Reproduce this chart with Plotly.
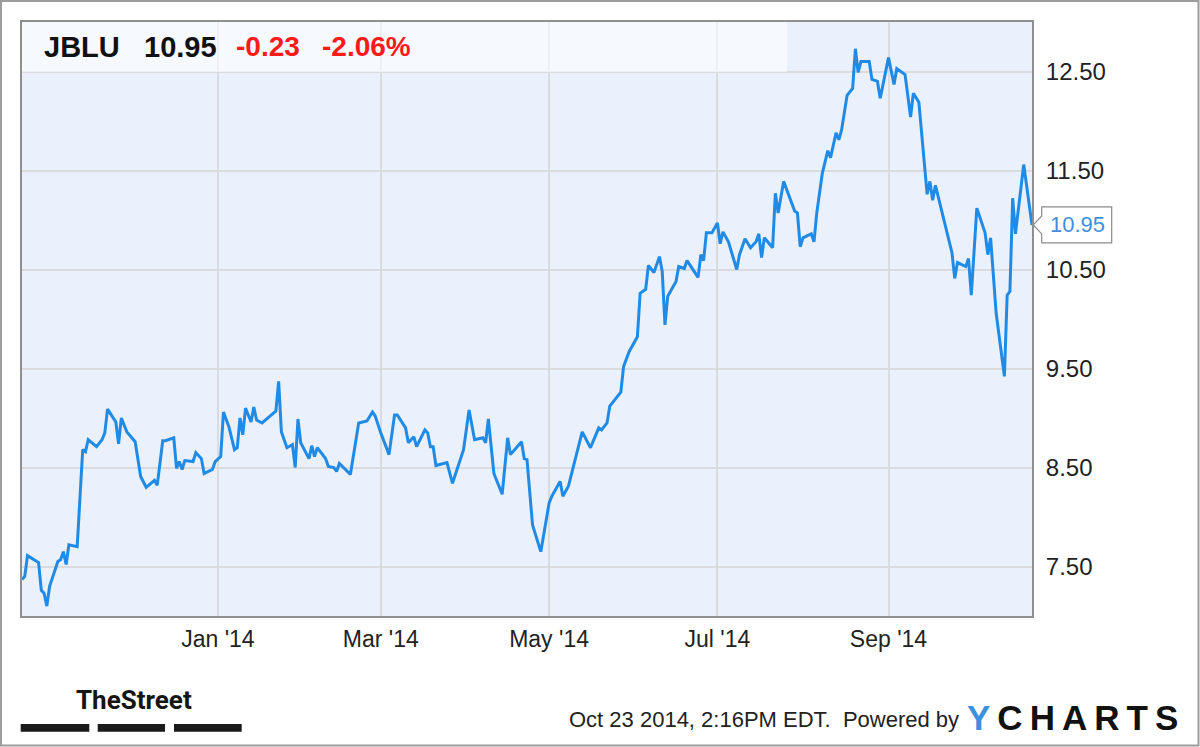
import plotly.graph_objects as go

# ---------------- data ----------------
ticker = "JBLU"
change_abs = -0.23
change_pct = -2.06
timestamp_text = "Oct 23 2014, 2:16PM EDT."

dates = [
    "2013-10-22", "2013-10-23", "2013-10-24", "2013-10-28", "2013-10-29", "2013-10-30", "2013-10-31",
    "2013-11-01", "2013-11-04", "2013-11-05", "2013-11-06", "2013-11-07", "2013-11-08", "2013-11-11",
    "2013-11-13", "2013-11-14", "2013-11-15", "2013-11-18", "2013-11-20", "2013-11-21", "2013-11-22",
    "2013-11-25", "2013-11-26", "2013-11-27", "2013-11-29", "2013-12-02", "2013-12-04", "2013-12-06",
    "2013-12-09", "2013-12-10", "2013-12-12", "2013-12-13", "2013-12-16", "2013-12-17", "2013-12-18",
    "2013-12-19", "2013-12-20", "2013-12-23", "2013-12-24", "2013-12-26", "2013-12-27", "2013-12-30",
    "2013-12-31", "2014-01-02", "2014-01-03", "2014-01-05", "2014-01-07", "2014-01-08", "2014-01-09",
    "2014-01-10", "2014-01-11", "2014-01-12", "2014-01-13", "2014-01-14", "2014-01-15", "2014-01-17",
    "2014-01-22", "2014-01-23", "2014-01-24", "2014-01-26", "2014-01-28", "2014-01-29", "2014-01-30",
    "2014-01-31", "2014-02-03", "2014-02-04", "2014-02-05", "2014-02-06", "2014-02-09", "2014-02-10",
    "2014-02-12", "2014-02-13", "2014-02-14", "2014-02-18", "2014-02-21", "2014-02-24", "2014-02-26",
    "2014-02-27", "2014-03-01", "2014-03-04", "2014-03-06", "2014-03-07", "2014-03-10", "2014-03-11",
    "2014-03-13", "2014-03-14", "2014-03-17", "2014-03-18", "2014-03-19", "2014-03-20", "2014-03-21",
    "2014-03-25", "2014-03-27", "2014-03-31", "2014-04-02", "2014-04-04", "2014-04-07", "2014-04-08",
    "2014-04-09", "2014-04-11", "2014-04-14", "2014-04-16", "2014-04-17", "2014-04-21", "2014-04-22",
    "2014-04-23", "2014-04-25", "2014-04-28", "2014-05-01", "2014-05-02", "2014-05-05", "2014-05-06",
    "2014-05-08", "2014-05-13", "2014-05-16", "2014-05-19", "2014-05-20", "2014-05-22", "2014-05-23",
    "2014-05-27", "2014-05-28", "2014-05-30", "2014-06-02", "2014-06-03", "2014-06-05", "2014-06-06",
    "2014-06-08", "2014-06-10", "2014-06-11", "2014-06-12", "2014-06-13", "2014-06-16", "2014-06-17",
    "2014-06-19", "2014-06-20", "2014-06-24", "2014-06-25", "2014-06-26", "2014-06-27", "2014-06-29",
    "2014-07-01", "2014-07-02", "2014-07-03", "2014-07-05", "2014-07-08", "2014-07-09", "2014-07-11",
    "2014-07-13", "2014-07-15", "2014-07-16", "2014-07-17", "2014-07-18", "2014-07-21", "2014-07-22",
    "2014-07-23", "2014-07-25", "2014-07-29", "2014-07-30", "2014-07-31", "2014-08-01", "2014-08-04",
    "2014-08-05", "2014-08-06", "2014-08-08", "2014-08-10", "2014-08-11", "2014-08-13", "2014-08-14",
    "2014-08-15", "2014-08-17", "2014-08-19", "2014-08-20", "2014-08-21", "2014-08-22", "2014-08-25",
    "2014-08-26", "2014-08-28", "2014-08-29", "2014-09-01", "2014-09-03", "2014-09-04", "2014-09-07",
    "2014-09-09", "2014-09-10", "2014-09-12", "2014-09-15", "2014-09-16", "2014-09-17", "2014-09-18",
    "2014-09-24", "2014-09-25", "2014-09-26", "2014-09-29", "2014-09-30", "2014-10-01", "2014-10-03",
    "2014-10-06", "2014-10-07", "2014-10-08", "2014-10-10", "2014-10-13", "2014-10-14", "2014-10-15",
    "2014-10-16", "2014-10-17", "2014-10-20", "2014-10-23",
]

prices = [
    7.37, 7.40, 7.61, 7.54, 7.26, 7.23, 7.10,
    7.30, 7.55, 7.57, 7.65, 7.52, 7.72, 7.70,
    8.68, 8.66, 8.78, 8.71, 8.78, 8.85, 9.09,
    8.96, 8.74, 9.00, 8.86, 8.76, 8.41, 8.30,
    8.37, 8.32, 8.77, 8.77, 8.80, 8.49, 8.56,
    8.48, 8.57, 8.56, 8.65, 8.59, 8.44, 8.48,
    8.56, 8.61, 9.06, 8.91, 8.68, 8.70, 9.00,
    8.83, 9.10, 9.03, 8.96, 9.11, 8.98, 8.95,
    9.07, 9.37, 8.86, 8.70, 8.73, 8.50, 8.99,
    8.75, 8.59, 8.72, 8.61, 8.70, 8.59, 8.51,
    8.50, 8.46, 8.54, 8.43, 8.95, 8.97, 9.06,
    9.02, 8.85, 8.63, 9.03, 9.03, 8.90, 8.75,
    8.81, 8.71, 8.88, 8.85, 8.71, 8.71, 8.52,
    8.55, 8.34, 8.68, 9.08, 8.78, 8.80, 8.75,
    8.99, 8.44, 8.23, 8.80, 8.63, 8.76, 8.59,
    8.58, 7.92, 7.65, 8.14, 8.21, 8.36, 8.21,
    8.31, 8.86, 8.70, 8.90, 8.88, 8.95, 9.12,
    9.26, 9.52, 9.67, 9.82, 10.26, 10.30, 10.54,
    10.47, 10.63, 10.48, 9.94, 10.23, 10.38, 10.53,
    10.51, 10.59, 10.42, 10.65, 10.59, 10.87, 10.87,
    10.97, 10.76, 10.88, 10.78, 10.50, 10.65, 10.81,
    10.72, 10.78, 10.86, 10.62, 10.82, 10.72, 11.27,
    11.07, 11.39, 11.09, 11.07, 10.73, 10.82, 10.86,
    10.78, 11.07, 11.47, 11.70, 11.63, 11.88, 11.81,
    11.91, 12.26, 12.33, 12.73, 12.49, 12.60, 12.60,
    12.42, 12.40, 12.23, 12.64, 12.37, 12.53, 12.47,
    12.04, 12.28, 12.19, 11.26, 11.39, 11.20, 11.35,
    10.67, 10.41, 10.57, 10.53, 10.61, 10.24, 11.12,
    10.87, 10.65, 10.82, 10.06, 9.42, 10.24, 10.28,
    11.22, 10.86, 11.56, 10.95,
]

x_tickvals = ["2014-01-01", "2014-03-01", "2014-05-01", "2014-07-01", "2014-09-01"]
x_ticktext = ["Jan '14", "Mar '14", "May '14", "Jul '14", "Sep '14"]
y_tickvals = [7.5, 8.5, 9.5, 10.5, 11.5, 12.5]
x_range = ["2013-10-22", "2014-10-23"]
y_range = [7.0, 13.0]

# ---------------- style ----------------
FONT = "Liberation Sans, Arial, Helvetica, sans-serif"
LINE_BLUE = "#1f8be6"
LABEL_BLUE = "#3d8fe0"
PLOT_BG = "#eaf1fc"
GRID = "#d9dbdf"
FRAME = "#8f8f8f"

W, H = 1200, 747
ML, MR, MT, MB = 22, 168, 22, 131
PW, PH = W - ML - MR, H - MT - MB


def px(xp):
    return (xp - ML) / PW


def py(yp):
    return (H - MB - yp) / PH


fig = go.Figure()
fig.add_trace(go.Scatter(
    x=dates, y=prices, mode="lines",
    line=dict(color=LINE_BLUE, width=3),
    hoverinfo="x+y", showlegend=False,
))

shapes = []
annotations = []

# light header band inside plot
shapes.append(dict(type="rect", xref="paper", yref="paper",
                   x0=0, x1=px(787), y0=py(72), y1=1,
                   fillcolor="rgba(255,255,255,0.55)", line=dict(width=0), layer="above"))

# outer frame of the whole image
shapes.append(dict(type="rect", xref="paper", yref="paper",
                   x0=px(1), x1=px(1198.5), y0=py(745.5), y1=py(1),
                   fillcolor="rgba(0,0,0,0)", line=dict(color="#9c9c9c", width=2)))

# last-price callout
last = prices[-1]
unit_px = PH / (y_range[1] - y_range[0])
xt, xb, xr = px(1033.3), px(1041.7), px(1111.7)
hh = 18 / unit_px
ah = 9 / unit_px
path = (f"M {xt},{last} L {xb},{last + ah} L {xb},{last + hh} L {xr},{last + hh} "
        f"L {xr},{last - hh} L {xb},{last - hh} L {xb},{last - ah} Z")
shapes.append(dict(type="path", xref="paper", yref="y", path=path,
                   fillcolor="white", line=dict(color="#8a8a8a", width=1.2)))
annotations.append(dict(xref="paper", yref="y", x=(xb + xr) / 2 + 0.001, y=last,
                        text=f"{last:.2f}", showarrow=False,
                        font=dict(family=FONT, size=22, color=LABEL_BLUE),
                        xanchor="center", yanchor="middle"))

# header text
hy = py(47)
annotations += [
    dict(xref="paper", yref="paper", x=px(42), y=hy, text=f"<b>{ticker}</b>", showarrow=False,
         xanchor="left", yanchor="middle", font=dict(family=FONT, size=29, color="#111111")),
    dict(xref="paper", yref="paper", x=px(142), y=hy, text=f"<b>{last:.2f}</b>", showarrow=False,
         xanchor="left", yanchor="middle", font=dict(family=FONT, size=29, color="#111111")),
    dict(xref="paper", yref="paper", x=px(234), y=hy, text=f"<b>{change_abs:.2f}</b>", showarrow=False,
         xanchor="left", yanchor="middle", font=dict(family=FONT, size=28, color="#ff1a1a")),
    dict(xref="paper", yref="paper", x=px(320), y=hy, text=f"<b>{change_pct:.2f}%</b>", showarrow=False,
         xanchor="left", yanchor="middle", font=dict(family=FONT, size=28, color="#ff1a1a")),
]

# TheStreet logo
annotations.append(dict(xref="paper", yref="paper", x=px(74), y=py(700), text="<b>TheStreet</b>",
                        showarrow=False, xanchor="left", yanchor="middle",
                        font=dict(family="Roboto, Liberation Sans, sans-serif",
                                  size=26, color="#151515")))
for x0, x1 in [(20.7, 89.3), (97.7, 165), (174, 241.7)]:
    shapes.append(dict(type="rect", xref="paper", yref="paper",
                       x0=px(x0), x1=px(x1), y0=py(731.7), y1=py(724),
                       fillcolor="#1a1a1a", line=dict(width=0)))

# footer
annotations.append(dict(xref="paper", yref="paper", x=px(961), y=py(719),
                        text=f"{timestamp_text}  Powered by", showarrow=False,
                        xanchor="right", yanchor="middle",
                        font=dict(family=FONT, size=22, color="#222222")))
annotations.append(dict(xref="paper", yref="paper", x=px(965), y=py(717),
                        text=f"<b><span style='color:{LABEL_BLUE}'>Y</span>\u2009C\u2009H\u2009A\u2009R\u2009T\u2009S</b>",
                        showarrow=False, xanchor="left", yanchor="middle",
                        font=dict(family=FONT, size=35, color="#111111")))

fig.update_layout(
    width=W, height=H,
    margin=dict(l=ML, r=MR, t=MT, b=MB, pad=0),
    paper_bgcolor="white", plot_bgcolor=PLOT_BG,
    shapes=shapes, annotations=annotations,
    showlegend=False,
    font=dict(family=FONT, color="#222222"),
    xaxis=dict(
        type="date", range=x_range, tickvals=x_tickvals, ticktext=x_ticktext,
        showgrid=True, gridcolor=GRID, gridwidth=1.6,
        showline=True, linecolor=FRAME, linewidth=2, mirror=True,
        ticks="", ticklabelstandoff=1,
        tickfont=dict(family=FONT, size=23, color="#222222"),
        zeroline=False, fixedrange=True,
    ),
    yaxis=dict(
        range=y_range, tickvals=y_tickvals, tickformat=".2f", side="right",
        showgrid=True, gridcolor=GRID, gridwidth=1.6,
        showline=True, linecolor=FRAME, linewidth=2, mirror=True,
        ticks="", ticklabelstandoff=7,
        tickfont=dict(family=FONT, size=24, color="#222222"),
        zeroline=False, fixedrange=True,
    ),
)

fig.write_html("out.html", config={"displayModeBar": False},
               post_script="document.body.style.margin='0px';document.body.style.overflow='hidden';")
